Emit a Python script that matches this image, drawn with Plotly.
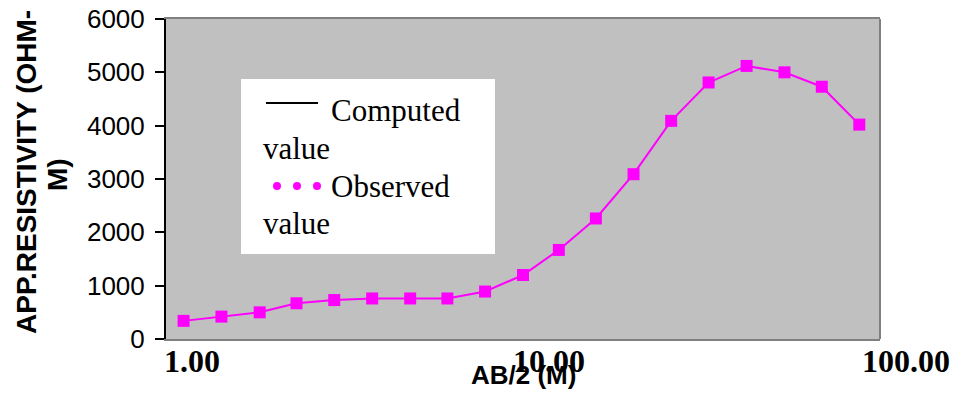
import plotly.graph_objects as go

# Electrode half-spacing AB/2 (m) and apparent resistivity (ohm-m)
ab2 = [1.12, 1.43, 1.83, 2.32, 2.96, 3.78, 4.83, 6.14, 7.83, 10.0,
       12.6, 16.0, 20.4, 26.0, 33.1, 42.3, 54.0, 68.7, 87.5]
observed = [340, 420, 500, 670, 730, 760, 760, 760, 890, 1200,
            1670, 2260, 3090, 4090, 4810, 5120, 5000, 4730, 4020]
computed_x = []
computed_y = []

x_tickvals = [1, 10, 100]
x_ticktext = ["1.00", "10.00", "100.00"]
y_tickvals = [0, 1000, 2000, 3000, 4000, 5000, 6000]

W, H = 962, 404
L, R, T, B = 166, 82, 19, 65
PW, PH = W - L - R, H - T - B

MAGENTA = "#FF00FF"
SERIF = "Liberation Serif, Times New Roman, serif"
SANS = "Liberation Sans, Arial, sans-serif"


def px(x):
    return (x - L) / PW


def py(y):
    return (H - B - y) / PH


fig = go.Figure()
fig.add_trace(go.Scatter(x=computed_x, y=computed_y, mode="lines",
                         line=dict(color="black", width=2),
                         name="Computed value", showlegend=False))
fig.add_trace(go.Scatter(x=ab2, y=observed, mode="lines+markers",
                         line=dict(color=MAGENTA, width=2),
                         marker=dict(symbol="square", size=12, color=MAGENTA),
                         name="Observed value", showlegend=False))

shapes = [
    # right border of the plot area
    dict(type="line", xref="paper", yref="paper", x0=1, x1=1, y0=0, y1=1,
         line=dict(color="#808080", width=2)),
    # legend box
    dict(type="rect", xref="paper", yref="paper", x0=px(241), x1=px(495),
         y0=py(254), y1=py(79), fillcolor="white", line=dict(width=0)),
    # legend key: computed line
    dict(type="line", xref="paper", yref="paper", x0=px(266), x1=px(318),
         y0=py(103), y1=py(103), line=dict(color="black", width=2)),
]
# legend key: observed dots
for cx in (277, 297, 317):
    shapes.append(dict(type="circle", xref="paper", yref="paper",
                       x0=px(cx - 4), x1=px(cx + 4), y0=py(190), y1=py(182),
                       fillcolor=MAGENTA, line=dict(width=0)))

legend_font = dict(family=SERIF, size=31, color="black")
annotations = [
    dict(text="Computed", x=px(330), y=py(110), xanchor="left", yanchor="middle"),
    dict(text="value", x=px(262), y=py(148), xanchor="left", yanchor="middle"),
    dict(text="Observed", x=px(330), y=py(186), xanchor="left", yanchor="middle"),
    dict(text="value", x=px(262), y=py(223), xanchor="left", yanchor="middle"),
]
for a in annotations:
    a.update(xref="paper", yref="paper", showarrow=False, font=legend_font,
             borderpad=0)

# axis titles
annotations += [
    dict(text="<b>AB/2 (M)</b>", x=px(523), y=py(375), xref="paper", yref="paper",
         xanchor="center", yanchor="middle", showarrow=False,
         font=dict(family=SANS, size=26, color="black")),
    dict(text="<b>APP.RESISTIVITY (OHM-</b>", x=px(26), y=py(172), xref="paper",
         yref="paper", xanchor="center", yanchor="middle", textangle=-90,
         showarrow=False, font=dict(family=SANS, size=28, color="black")),
    dict(text="<b>M)</b>", x=px(57), y=py(174), xref="paper", yref="paper",
         xanchor="center", yanchor="middle", textangle=-90, showarrow=False,
         font=dict(family=SANS, size=28, color="black")),
]

fig.update_layout(
    width=W, height=H,
    margin=dict(l=L, r=R, t=T, b=B, pad=0),
    paper_bgcolor="white",
    plot_bgcolor="#C0C0C0",
    showlegend=False,
    shapes=shapes,
    annotations=annotations,
)
fig.update_xaxes(
    type="log", range=[0, 2], tickvals=x_tickvals, ticktext=x_ticktext,
    ticks="", showgrid=False, zeroline=False,
    showline=True, linecolor="#808080", linewidth=2, mirror=True,
    tickfont=dict(family=SERIF, size=32, color="black", weight="bold"),
    ticklabelshift=26, ticklabelstandoff=-7, automargin=False,
)
fig.update_yaxes(
    range=[0, 6000], tickvals=y_tickvals, showgrid=False, zeroline=False,
    showline=True, linecolor="black", linewidth=2,
    ticks="outside", ticklen=9, tickcolor="black", tickwidth=2,
    tickfont=dict(family=SANS, size=26, color="black"),
    ticklabelstandoff=5, automargin=False,
)

fig.write_html("out.html")
